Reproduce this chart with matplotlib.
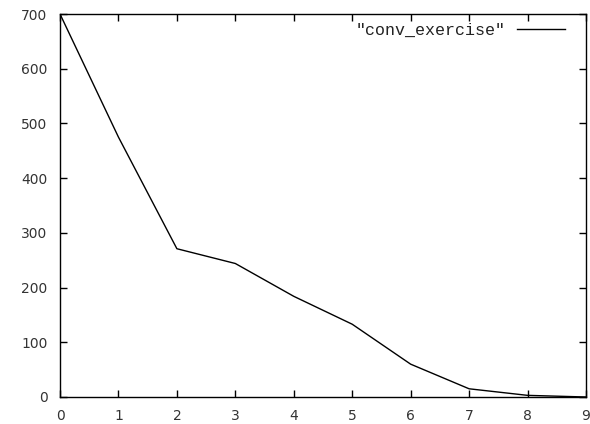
import matplotlib
matplotlib.use("Agg")
import matplotlib.pyplot as plt

# data
iterations = [0, 1, 2, 3, 4, 5, 6, 7, 8, 9]
values = [700, 475, 271, 244, 184, 133, 60, 15, 3, 0]

fig = plt.figure(figsize=(5.9, 4.24), dpi=100)
ax = fig.add_axes([60 / 590, 1 - 397 / 424, (586 - 60) / 590, (397 - 14) / 424])

ax.plot(iterations, values, color="black", linewidth=1, label='"conv_exercise"')

ax.set_xlim(0, 9)
ax.set_ylim(0, 700)
ax.set_xticks(range(0, 10))
ax.set_yticks(range(0, 701, 100))
ax.tick_params(direction="in", top=True, right=True, length=5, width=1,
               labelsize=10, labelcolor="#333333", pad=9)
for s in ax.spines.values():
    s.set_linewidth(1)

leg = ax.legend(loc="upper right", bbox_to_anchor=(0.973, 0.995), frameon=False,
                markerfirst=False, prop={"family": "Liberation Mono", "size": 12},
                handlelength=2.9, borderaxespad=0, handletextpad=0.7)
for t in leg.get_texts():
    t.set_color("#222222")

fig.savefig("out.png", dpi=100)
